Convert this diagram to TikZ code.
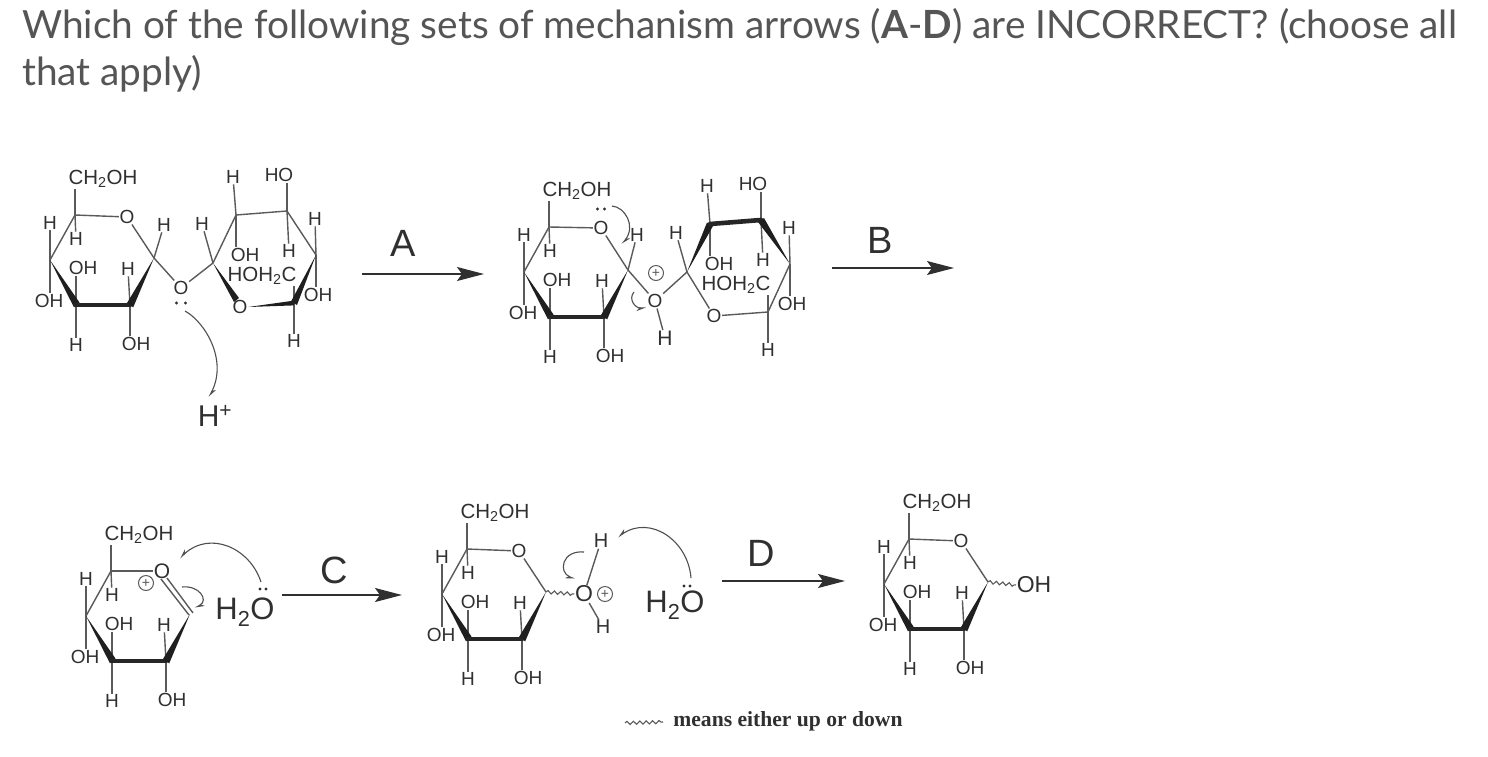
\documentclass[tikz,border=0pt]{standalone}
\usepackage{fontspec}
\setmainfont{Liberation Sans}
\newfontfamily\titlefont{Lato}
\newfontfamily\legendfont{Liberation Serif}
\usetikzlibrary{arrows.meta,calc,decorations.pathmorphing}
\definecolor{ink}{HTML}{303030}
\definecolor{bondc}{HTML}{5A5A5A}
\definecolor{titlec}{HTML}{555555}
\tikzset{
  atom/.style={inner sep=0.6pt,text=ink,font=\fontsize{19}{19}\selectfont},
  group/.style={inner sep=0.6pt,text=ink,font=\fontsize{20.5}{20.5}\selectfont},
  bigatom/.style={inner sep=0.8pt,text=ink,font=\fontsize{31}{31}\selectfont},
  steplabel/.style={inner sep=0pt,text=ink,font=\fontsize{38}{38}\selectfont},
  titleline/.style={inner sep=0pt,anchor=base west,text=titlec,font=\titlefont\fontsize{38.8}{38.8}\selectfont},
  bond/.style={draw=bondc,line width=1.4pt},
  thick bond/.style={draw=black!85,line width=4.6pt,line cap=round},
  wedgefill/.style={fill=black!88,draw=none},
  wavy/.style={draw=bondc,line width=1.1pt,decorate,decoration={snake,segment length=6.4pt,amplitude=1.6pt}},
  mech/.style={draw=ink!85,line width=1.1pt,-{Stealth[length=8pt,width=6pt,harpoon]}},
  mechr/.style={draw=ink!85,line width=1.1pt,-{Stealth[length=8pt,width=6pt,harpoon,swap]}},
  rxn/.style={draw=ink,line width=1.4pt,-{Stealth[length=27pt,width=14pt,inset=5pt]}},
  charge/.style={circle,draw=bondc,line width=1pt,inner sep=0pt,minimum size=15pt,text=bondc,font=\fontsize{14}{14}\selectfont}
}
\newcommand{\lonepair}[3]{\fill[ink] (#1-#3,#2) circle (1.6) (#1+#3,#2) circle (1.6);}
% left hexose: prefix, dx, dy
\newcommand{\leftring}[3]{%
\begin{scope}[shift={(#2,#3)}]
  \coordinate (#1c5) at (75,215);
  \coordinate (#1c4) at (50,260);
  \coordinate (#1c3) at (76,305);
  \coordinate (#1c2) at (130,305);
  \coordinate (#1c1) at (154,258);
  \node[group] (#1ch) at (103,179) {CH\textsubscript{2}OH};
  \node[atom] (#1h5) at (50,223) {H};
  \node[atom] (#1h5b) at (76,239) {H};
  \node[atom] (#1oh3) at (83,268) {OH};
  \node[atom] (#1h2) at (128,269) {H};
  \node[atom] (#1oh4) at (49,301) {OH};
  \node[atom] (#1h3) at (76,345) {H};
  \node[atom] (#1oh2) at (136,344) {OH};
  \draw[bond] (#1c5) -- (#1c5 |- #1ch.south);
  \draw[bond] (#1c5) -- (#1c4);
  \draw[bond] (#1c4) -- (#1c4 |- #1h5.south);
  \draw[bond] (#1c4) -- (#1c4 |- #1oh4.north);
  \draw[bond] (#1c5) -- (#1h5b);
  \draw[bond] (#1c3) -- (#1c3 |- #1oh3.south);
  \draw[bond] (#1c2) -- (#1h2);
  \draw[bond] (#1c3) -- (#1h3);
  \draw[bond] (#1c2) -- (#1c2 |- #1oh2.north);
  \fill[wedgefill] (#1c4) -- ($(#1c3)+(3.5,-2.5)$) -- ($(#1c3)+(-2,2.4)$) -- cycle;
  \draw[thick bond] (#1c3) -- (#1c2);
  \fill[wedgefill] (#1c1) -- ($(#1c2)+(3.2,2.4)$) -- ($(#1c2)+(-3,-2)$) -- cycle;
\end{scope}}
% right hexose: prefix, dx, dy
\newcommand{\rightring}[3]{%
\begin{scope}[shift={(#2,#3)}]
  \coordinate (#1a) at (213,263);
  \coordinate (#1b) at (236,215);
  \coordinate (#1c) at (287,211);
  \coordinate (#1d) at (316,255);
  \coordinate (#1e) at (294,303);
  \node[atom] (#1o) at (240,307) {O};
  \node[atom] (#1hb) at (233,177) {H};
  \node[atom] (#1hoc) at (279,175) {HO};
  \node[atom] (#1hd) at (315,219) {H};
  \node[atom] (#1ha) at (202,224) {H};
  \node[atom] (#1ohb) at (245,255) {OH};
  \node[atom] (#1hc) at (289,251) {H};
  \node[group] (#1hohc) at (262,276) {HOH\textsubscript{2}C};
  \node[atom] (#1ohd) at (318,295) {OH};
  \node[atom] (#1he) at (294,341) {H};
  \draw[bond] (#1a) -- (#1ha);
  \draw[bond] (#1b) -- (#1hb);
  \draw[bond] (#1c) -- (#1c |- #1hoc.south);
  \draw[bond] (#1d) -- (#1hd);
  \draw[bond] (#1b) -- (#1b |- #1ohb.north);
  \draw[bond] (#1c) -- (#1hc);
  \draw[bond] (#1d) -- (#1d |- #1ohd.north);
  \draw[bond] (#1e) -- (#1he);
  \draw[bond] (#1e) -- (#1e |- #1hohc.south);
\end{scope}}
\begin{document}
\begin{tikzpicture}[x=1pt,y=-1pt]
\useasboundingbox (0,0) rectangle (1488,756);
\fill[white] (0,0) rectangle (1488,756);
% title
\node[titleline] (t1) at (22,38) {Which of the following sets of mechanism arrows (\textbf{A}-\textbf{D}) are INCORRECT? (choose all};
\node[titleline] (t2) at (22,85) {that apply)};

% structure 1
\leftring{p}{0}{0}
\rightring{q}{0}{0}
\node[atom] (po) at (127,217) {O};
\node[atom] (ph1) at (164,225) {H};
\node[atom] (pbr) at (181,288) {O};
\draw[bond] (pc5) -- (po);
\draw[bond] (po) -- (pc1);
\draw[bond] (pc1) -- (ph1);
\draw[bond] (pc1) -- (pbr);
\draw[bond] (pbr) -- (qa);
\draw[bond] (qb) -- (qc) -- (qd);
\draw[bond] (qa) -- (qb);
\fill[wedgefill] (qa) -- ($(qo)+(-1,-9)$) -- ($(qo)+(-6,-5)$) -- cycle;
\fill[wedgefill] (qo.east) -- ($(qe)+(0,-2.4)$) -- ($(qe)+(0,2.4)$) -- cycle;
\fill[wedgefill] (qd) -- ($(qe)+(3,2)$) -- ($(qe)+(-3,-1.5)$) -- cycle;
\lonepair{181}{303}{4.5}
\node[inner sep=0pt,text=ink,font=\fontsize{30}{30}\selectfont] (hplus) at (215,416) {H\textsuperscript{+}};
\coordinate (ma1) at (185,311);
\coordinate (ma2) at (209,397);
\draw[mech] (ma1) .. controls (205,322) and (228,360) .. (ma2);

% arrow A
\node[steplabel] (la) at (403,243) {A};
\coordinate (a1) at (362,274); \coordinate (a2) at (484,274);
\draw[rxn] (a1) -- (a2);

% structure 2
\leftring{r}{474}{12}
\rightring{s}{474}{9}
\node[atom] (ro) at (601,228) {O};
\node[atom] (rh1) at (637,235) {H};
\node[atom] (rbr) at (655,301) {O};
\node[atom,font=\fontsize{21}{21}\selectfont] (rbrh) at (665,338) {H};
\node[charge] (rplus) at (656,273) {+};
\draw[bond] (rc5) -- (ro);
\draw[bond] (ro) -- (rc1);
\draw[bond] (rc1) -- (rh1);
\draw[bond] (rc1) -- (rbr);
\draw[bond] (rbr) -- (sa);
\draw[bond] (rbr) -- (rbrh);
\draw[bond] (sa) -- (so);
\draw[bond] (so) -- (se);
\draw[bond] (sd) -- (se);
\fill[wedgefill] (sa) -- ($(sb)+(3,2)$) -- ($(sb)+(-3,-1.5)$) -- cycle;
\draw[thick bond] (sb) -- (sc);
\fill[wedgefill] (sd) -- ($(sc)+(3,-2)$) -- ($(sc)+(-3,2)$) -- cycle;
\lonepair{601}{209}{3.5}
\coordinate (mb1) at (612,206);
\coordinate (mb2) at (622,244);
\draw[mech] (mb1) .. controls (625,207) and (636,226) .. (mb2);
\coordinate (mc1) at (634,292);
\coordinate (mc2) at (646,308);
\draw[mechr] (mc1) .. controls (628,299) and (635,308) .. (mc2);

% arrow B
\node[steplabel] (lb) at (880,240) {B};
\coordinate (b1) at (832,268); \coordinate (b2) at (954,268);
\draw[rxn] (b1) -- (b2);

% structure 3
\leftring{u}{36}{356}
\node[atom,font=\fontsize{21}{21}\selectfont] (uo) at (162,571) {O};
\node[charge] (uplus) at (146,583) {+};
\draw[bond] (uc5) -- (uo);
\draw[bond] ($(uo)+(-1,8)$) -- ($(uc1)+(-1,1)$);
\draw[bond] ($(uo)+(5,7)$) -- ($(uc1)+(3,-1)$);
\node[bigatom] (uw) at (245,612) {H\textsubscript{2}O};
\lonepair{263}{589}{3}
\coordinate (md1) at (182,587);
\coordinate (md2) at (195,608);
\draw[mech] (md1) .. controls (199,585) and (209,600) .. (md2);
\coordinate (me1) at (261,582);
\coordinate (me2) at (180,558);
\draw[mechr] (me1) .. controls (250,548) and (210,530) .. (me2);

% arrow C
\node[steplabel] (lc) at (334,570) {C};
\coordinate (c1) at (282,595); \coordinate (c2) at (402,595);
\draw[rxn] (c1) -- (c2);

% structure 4
\leftring{v}{392}{334}
\node[atom] (vo) at (519,551) {O};
\node[atom,font=\fontsize{23}{23}\selectfont] (vbr) at (584,594) {O};
\node[charge,minimum size=15pt] (vplus) at (605,594) {+};
\node[atom,font=\fontsize{20}{20}\selectfont] (vht) at (601,541) {H};
\node[atom,font=\fontsize{20}{20}\selectfont] (vhb) at (603,627) {H};
\draw[bond] (vc5) -- (vo);
\draw[bond] (vo) -- (vc1);
\draw[wavy] (vc1) -- (vbr.west);
\draw[bond] (vbr) -- (vht);
\draw[bond] (vbr) -- (vhb);
\node[bigatom] (vw) at (675,605) {H\textsubscript{2}O};
\lonepair{687}{586}{3}
\coordinate (mf1) at (584,552);
\coordinate (mf2) at (575,579);
\draw[mechr] (mf1) .. controls (562,550) and (558,572) .. (mf2);
\coordinate (mg1) at (691,578);
\coordinate (mg2) at (618,537);
\draw[mechr] (mg1) .. controls (688,540) and (650,515) .. (mg2);

% arrow D
\node[steplabel] (ld) at (761,553) {D};
\coordinate (d1) at (722,581); \coordinate (d2) at (845,581);
\draw[rxn] (d1) -- (d2);

% structure 5
\leftring{w}{834}{324}
\node[atom] (wo) at (961,541) {O};
\node[atom,font=\fontsize{23}{23}\selectfont] (woh) at (1034,585) {OH};
\draw[bond] (wc5) -- (wo);
\draw[bond] (wo) -- (wc1);
\draw[wavy] (wc1) -- (woh.west);

% legend
\coordinate (l1) at (625,723); \coordinate (l2) at (663,722);
\draw[wavy] (l1) -- (l2);
\node[inner sep=0pt,text=ink,font=\legendfont\bfseries\fontsize{21.6}{21.6}\selectfont] (ltext) at (788,721) {means either up or down};
\end{tikzpicture}
\end{document}
